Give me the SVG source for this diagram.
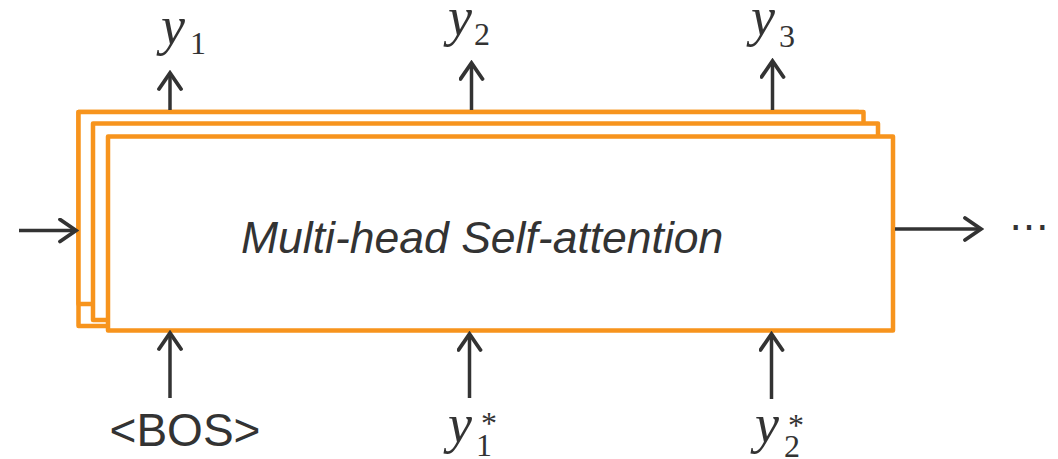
<svg xmlns="http://www.w3.org/2000/svg" width="1058" height="459" viewBox="0 0 1058 459">
  <style>
    .box { fill: #ffffff; stroke: #F7941D; stroke-width: 4.5; stroke-linejoin: round; }
    .conn { stroke: #333333; stroke-width: 3.5; fill: none; }
    .label { font-family: "Liberation Sans", Arial, sans-serif; fill: #333333; }
    .math { font-family: "Liberation Serif", "Times New Roman", serif; fill: #333333; }
    .mi { font-style: italic; font-size: 54px; }
    .sub { font-size: 32px; }
  </style>
  <defs>
    <marker id="arrow" viewBox="0 0 22 26" markerWidth="22" markerHeight="26" refX="19" refY="13" orient="auto" markerUnits="userSpaceOnUse">
      <path d="M3,2 L19,13 L3,24" fill="none" stroke="#333333" stroke-width="3.8" stroke-linecap="round" stroke-linejoin="miter"/>
    </marker>
  </defs>
  <rect width="1058" height="459" fill="#ffffff"/>

  <g id="attention-stack">
    <rect class="box" x="78.5" y="112" width="780" height="214"/>
    <rect class="box" x="78.5" y="112" width="785" height="192"/>
    <rect class="box" x="93" y="123.5" width="785" height="196.5"/>
    <rect class="box" x="108" y="136.5" width="785" height="194"/>
    <text class="label" x="241" y="253" font-size="44.5" font-style="italic">Multi-head Self-attention</text>
  </g>

  <g id="connectors">
    <line class="conn" x1="170" y1="110" x2="170" y2="73" marker-end="url(#arrow)"/>
    <line class="conn" x1="471.5" y1="110" x2="471.5" y2="63" marker-end="url(#arrow)"/>
    <line class="conn" x1="772.5" y1="110" x2="772.5" y2="61" marker-end="url(#arrow)"/>
    <line class="conn" x1="170" y1="398" x2="170" y2="333" marker-end="url(#arrow)"/>
    <line class="conn" x1="469.5" y1="398" x2="469.5" y2="334" marker-end="url(#arrow)"/>
    <line class="conn" x1="771.5" y1="399" x2="771.5" y2="334" marker-end="url(#arrow)"/>
    <line class="conn" x1="19" y1="230.5" x2="76" y2="230.5" marker-end="url(#arrow)"/>
    <line class="conn" x1="895" y1="229" x2="981" y2="229" marker-end="url(#arrow)"/>
  </g>

  <g id="out-y1">
    <text class="math mi" x="161" y="44">y</text>
    <text class="math sub" x="190" y="54">1</text>
  </g>
  <g id="out-y2">
    <text class="math mi" x="448" y="35">y</text>
    <text class="math sub" x="474" y="45">2</text>
  </g>
  <g id="out-y3">
    <text class="math mi" x="751" y="35">y</text>
    <text class="math sub" x="779" y="47">3</text>
  </g>

  <g id="in-bos">
    <text class="label" x="185" y="446" font-size="46" text-anchor="middle">&lt;BOS&gt;</text>
  </g>
  <g id="in-y1star">
    <text class="math mi" x="448" y="442">y</text>
    <text class="math sub" x="476" y="456">1</text>
    <text class="math sub" x="481" y="434">*</text>
  </g>
  <g id="in-y2star">
    <text class="math mi" x="755" y="442">y</text>
    <text class="math sub" x="784" y="457">2</text>
    <text class="math sub" x="788" y="436">*</text>
  </g>

  <g id="continuation">
    <text class="label" x="1029" y="240" font-size="40" text-anchor="middle">⋯</text>
  </g>
</svg>
